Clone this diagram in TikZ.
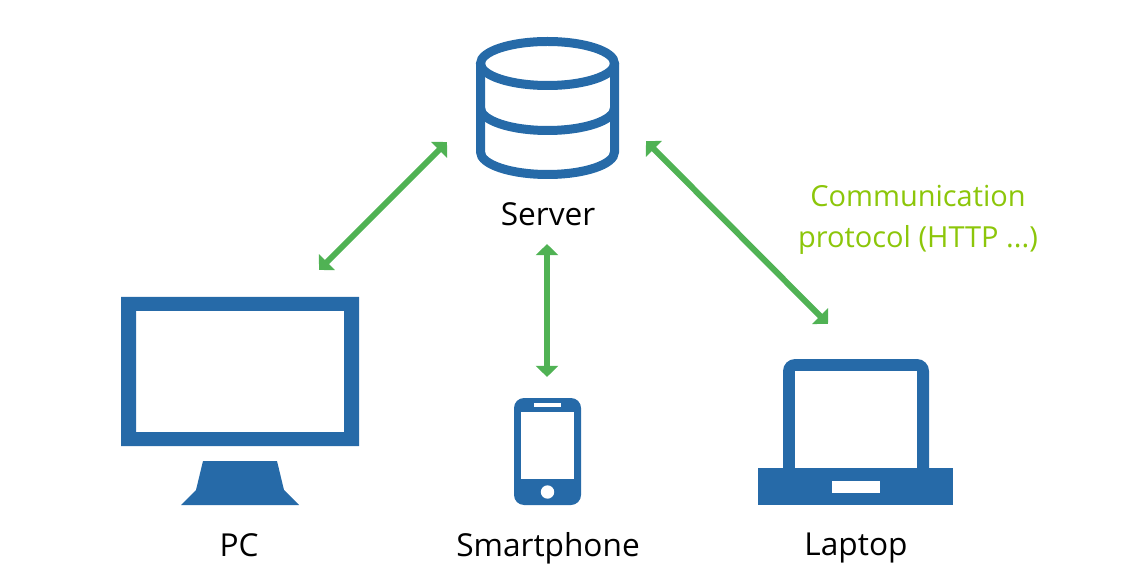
\documentclass[tikz,border=0pt]{standalone}
\usepackage{fontspec}
\setmainfont{Open Sans}
\usepackage{xcolor}
\definecolor{iconblue}{RGB}{38, 106, 168}
\definecolor{linkgreen}{RGB}{80, 178, 84}
\definecolor{notegreen}{RGB}{140, 198, 10}
\usetikzlibrary{arrows.meta}

\begin{document}
\begin{tikzpicture}[x=0.02cm, y=-0.02cm, >={Triangle[length=6.4pt, width=12.5pt]},
    icon/.style={fill=iconblue, draw=none},
    hole/.style={fill=white, draw=none},
    drum/.style={draw=iconblue, line width=0.18cm},
    link/.style={<->, draw=linkgreen, line width=0.12cm},
    caption/.style={font=\fontsize{18pt}{22pt}\selectfont, text=black, inner sep=0pt},
    note/.style={font=\fontsize{16.5pt}{20pt}\selectfont, text=notegreen, inner sep=0pt}]
    \useasboundingbox (0,0) rectangle (1125,587);

    % Server
    \draw[drum] (547.5,63.5) ellipse (67 and 22);
    \draw[drum] (480.5,63.5) -- (480.5,152) arc[start angle=180, end angle=360, x radius=67, y radius=-22.5] -- (614.5,63.5);
    \draw[drum] (480.5,108) arc[start angle=180, end angle=360, x radius=67, y radius=-22.5];
    \node[caption] (server) at (548,214) {Server};

    % PC
    \fill[icon, even odd rule] (121,297) rectangle (359,446) (136,311) rectangle (344,432);
    \fill[icon] (203,461) -- (277,461) -- (284,490) -- (299,505) -- (181,505) -- (196,490) -- cycle;
    \node[caption] (pc) at (239,545) {PC};

    % Smartphone
    \fill[icon, rounded corners=0.2cm] (514,398) rectangle (581,505);
    \fill[hole] (521,412) rectangle (574,479);
    \fill[hole] (534,403) rectangle (561,407);
    \fill[hole] (547.5,492) circle (6.7);
    \node[caption] (phone) at (548,548) {Smartphone};

    % Laptop
    \fill[icon, rounded corners=0.24cm] (783,490) -- (783,359) -- (929,359) -- (929,490) -- cycle;
    \fill[hole] (795,371) rectangle (917,469);
    \fill[icon] (758,468) rectangle (953,505);
    \fill[hole] (832,481) rectangle (880,493);
    \node[caption] (laptop) at (856,548) {Laptop};

    % Links
    \coordinate (serverW) at (447,142);
    \coordinate (serverS) at (547,244);
    \coordinate (serverE) at (646,141);
    \coordinate (pcTop) at (319,270);
    \coordinate (phoneTop) at (547,377);
    \coordinate (laptopTop) at (828,324);
    \draw[link] (pcTop) -- (serverW);
    \draw[link] (phoneTop) -- (serverS);
    \draw[link] (laptopTop) -- (serverE);

    \node[note] (protocolA) at (918,196) {Communication};
    \node[note] (protocolB) at (918,240) {protocol (HTTP ...)};
\end{tikzpicture}
\end{document}
